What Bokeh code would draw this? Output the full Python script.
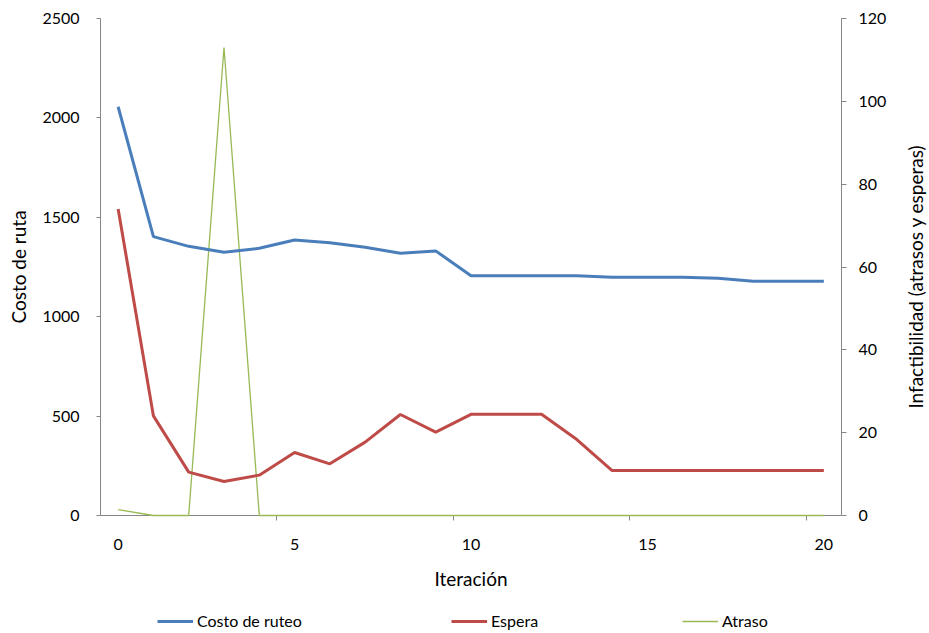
import math
from bokeh.plotting import figure
from bokeh.models import Range1d, LinearAxis, FixedTicker, Legend, LegendItem
from bokeh.layouts import column, row
from bokeh.core.properties import value
from bokeh.embed import file_html
from bokeh.resources import INLINE

iteracion = [0, 1, 2, 3, 4, 5, 6, 7, 8, 9, 10, 11, 12, 13, 14, 15, 16, 17, 18, 19, 20]
costo_ruteo = [2056, 1403, 1354, 1324, 1344, 1386, 1372, 1349, 1319, 1331, 1206,
               1206, 1206, 1206, 1198, 1198, 1198, 1193, 1178, 1178, 1178]
espera = [1542, 501, 218, 171, 203, 317, 260, 369, 508, 419, 509,
          509, 509, 382, 226, 226, 226, 226, 226, 226, 226]
atraso = [1.4, 0, 0, 113, 0, 0, 0, 0, 0, 0, 0,
          0, 0, 0, 0, 0, 0, 0, 0, 0, 0]

series_names = ["Costo de ruteo", "Espera", "Atraso"]
series_colors = ["#4A7EBB", "#BE4B48", "#98B954"]
series_widths = [3, 3, 1.3]

x_ticks = [0, 5, 10, 15, 20]
x_minor = [4.5, 9.5, 14.5, 19.5]
left_ticks = [0, 500, 1000, 1500, 2000, 2500]
right_ticks = [0, 20, 40, 60, 80, 100, 120]
right_title = "Infactibilidad (atrasos y esperas)"

FONT = "Lato"
AXIS_GRAY = "#868686"
W_MAIN, W_TITLE = 900, 29
BL, BR, BT, BB = 100, 59, 18, 85

p = figure(width=W_MAIN, height=600, x_range=Range1d(-0.5, 20.5), y_range=Range1d(0, 2500),
           output_backend="svg", toolbar_location=None,
           min_border_left=BL, min_border_top=BT, min_border_right=BR, min_border_bottom=BB)
p.extra_y_ranges = {"right": Range1d(0, 120)}
p.grid.visible = False
p.outline_line_color = None

r3 = p.line(iteracion, atraso, y_range_name="right", line_color=series_colors[2],
            line_width=series_widths[2], level="overlay")
r1 = p.line(iteracion, costo_ruteo, line_color=series_colors[0],
            line_width=series_widths[0], level="overlay")
r2 = p.line(iteracion, espera, line_color=series_colors[1],
            line_width=series_widths[1], level="overlay")

def style(ax):
    ax.axis_line_color = AXIS_GRAY
    ax.major_tick_line_color = AXIS_GRAY
    ax.minor_tick_line_color = None
    ax.major_tick_in = 0
    ax.major_tick_out = 4
    ax.major_label_text_font = FONT
    ax.major_label_text_font_size = "16px"
    ax.major_label_text_color = "#000000"
    ax.axis_label_text_font = FONT
    ax.axis_label_text_font_size = "19px"
    ax.axis_label_text_font_style = "normal"
    ax.axis_label_text_color = "#000000"

xa = p.xaxis[0]
style(xa)
xa.ticker = FixedTicker(ticks=x_ticks, minor_ticks=x_minor)
xa.major_tick_line_color = None
xa.major_tick_out = 0
xa.minor_tick_line_color = AXIS_GRAY
xa.minor_tick_in = 0
xa.minor_tick_out = 5
xa.major_label_standoff = 18
xa.axis_label = "Iteración"
xa.axis_label_standoff = 14

ya = p.yaxis[0]
style(ya)
ya.ticker = FixedTicker(ticks=left_ticks)
ya.major_label_standoff = 17
ya.axis_label = "Costo de ruta"
ya.axis_label_standoff = 9

ra = LinearAxis(y_range_name="right", ticker=FixedTicker(ticks=right_ticks))
style(ra)
ra.major_tick_out = 5
ra.major_label_standoff = 12
p.add_layout(ra, "right")

# legend strip below the chart (frame aligned with the chart frame)
leg = figure(width=W_MAIN, height=33, x_range=Range1d(0, 741), y_range=Range1d(0, 33),
             output_backend="svg", toolbar_location=None,
             min_border_left=BL, min_border_right=BR, min_border_top=0, min_border_bottom=0)
leg.axis.visible = False
leg.grid.visible = False
leg.outline_line_color = None
legend_x = [57, 351, 582]
for name, color, lw, lx in zip(series_names, series_colors, series_widths, legend_x):
    dummy = leg.line(x=[-50, -40], y=[-50, -50], line_color=color, line_width=lw)
    lg = Legend(items=[LegendItem(label=name, renderers=[dummy])],
                location=(lx, 3), glyph_width=36, glyph_height=16, label_height=16,
                label_standoff=4, border_line_color=None, background_fill_alpha=0,
                label_text_font=FONT, label_text_font_size="16px",
                label_text_color="#000000", padding=0, margin=0)
    leg.add_layout(lg, "center")

# right-hand axis title (reads bottom to top, as in the reference)
tf = figure(width=W_TITLE, height=633, x_range=Range1d(0, W_TITLE), y_range=Range1d(0, 497),
            output_backend="svg", toolbar_location=None,
            min_border_left=0, min_border_right=0, min_border_top=BT, min_border_bottom=118)
tf.axis.visible = False
tf.grid.visible = False
tf.outline_line_color = None
tf.text(x=[15], y=[239], text=[right_title], angle=math.pi / 2,
        text_align="center", text_baseline="middle", text_font=value(FONT),
        text_font_size="19px", text_color="#000000")

layout = row(column(p, leg, spacing=0), tf, spacing=0)
open("out.html", "w").write(file_html(layout, INLINE))
